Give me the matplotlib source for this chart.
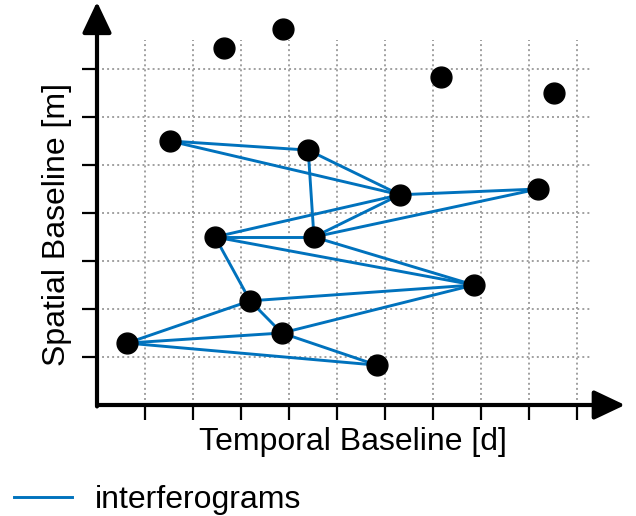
import numpy as np
import matplotlib.pyplot as plt
from matplotlib.lines import Line2D

plt.rcParams['font.family'] = ['Liberation Sans', 'DejaVu Sans']

# acquisitions: temporal / spatial baseline (grid units)
temporal = [2.65, 3.88, 7.17, 9.52, 1.52, 4.40, 6.31, 9.19, 2.46, 4.52, 7.85, 3.19, 3.85, 0.63, 5.83]
spatial = [7.44, 7.83, 6.83, 6.50, 5.50, 5.31, 4.38, 4.50, 3.50, 3.50, 2.50, 2.17, 1.50, 1.29, 0.83]

# interferogram pairs (indices into the lists above)
pairs = [(4, 5), (4, 6), (5, 6), (5, 9), (8, 6), (8, 9), (9, 6), (9, 7), (6, 7),
         (8, 10), (9, 10), (8, 11), (11, 10), (11, 12), (13, 11), (13, 12),
         (13, 14), (12, 10), (12, 14)]

xticks = np.arange(1, 11)
yticks = np.arange(1, 8)

W, H = 636, 516
fig = plt.figure(figsize=(W / 100, H / 100), dpi=100)
unit = 48
x0, y0 = 97, 405
xmax, ymax = 11.3, 8.45
ax = fig.add_axes([x0 / W, (H - y0) / H, xmax * unit / W, ymax * unit / H])
ax.set_xlim(0, xmax)
ax.set_ylim(0, ymax)
for s in ax.spines.values():
    s.set_visible(False)

# dotted grid, limited extent
ax.vlines(xticks, 0, 7.6, colors='#a0a0a0', linestyles=(0, (1, 1.6)), lw=1.4, zorder=1)
ax.hlines(yticks, 0, 10.3, colors='#a0a0a0', linestyles=(0, (1, 1.6)), lw=1.4, zorder=1)

blue = '#0072bd'
for a, b in pairs:
    ax.plot([temporal[a], temporal[b]], [spatial[a], spatial[b]], color=blue, lw=2.1, zorder=2,
            solid_capstyle='round')
ax.plot(temporal, spatial, 'o', color='black', ms=15, zorder=3, clip_on=False)

# axes with arrows
arrow = dict(arrowstyle='-|>,head_length=0.95,head_width=0.45', mutation_scale=20,
             color='black', lw=3, shrinkA=0, shrinkB=0)
ax.annotate('', xy=(11.0, 0), xytext=(0, 0), arrowprops=arrow, annotation_clip=False)
ax.annotate('', xy=(0, 8.4), xytext=(0, -0.03), arrowprops=arrow, annotation_clip=False)

ax.set_xticks(xticks)
ax.set_yticks(yticks)
ax.set_xticklabels([])
ax.set_yticklabels([])
ax.tick_params(direction='out', length=11, width=1.6, color='black')

ax.set_xlabel('Temporal Baseline [d]', fontsize=23)
ax.set_ylabel('Spatial Baseline [m]', fontsize=23)
ax.xaxis.set_label_coords(0.472, -0.055)
ax.yaxis.set_label_coords(-0.047, 0.446)

handle = Line2D([], [], color=blue, lw=2.1)
fig.legend([handle], ['interferograms'], loc='center left', bbox_to_anchor=(0.0, 1 - 500 / H),
           frameon=False, fontsize=23, handlelength=1.8, handletextpad=0.72, borderaxespad=0,
           borderpad=0.45)

fig.savefig('out.png', dpi=100)
